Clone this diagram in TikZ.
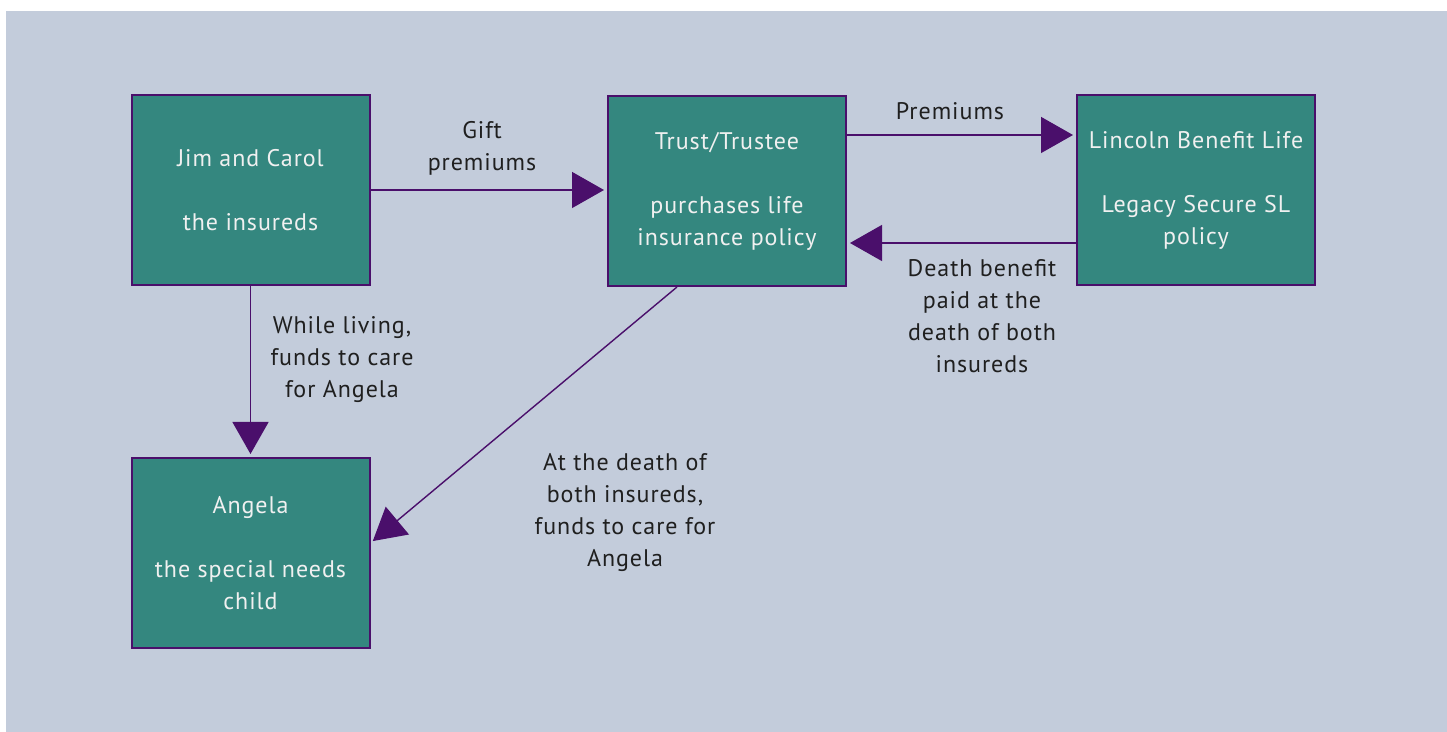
\documentclass[tikz,border=0pt]{standalone}
\usepackage{fontspec}
\setmainfont[LetterSpace=4]{PT Sans}
\usetikzlibrary{arrows.meta}
\definecolor{bgblue}{HTML}{C3CCDB}
\definecolor{boxteal}{HTML}{34877F}
\definecolor{darkpurple}{HTML}{4A0F6B}
\begin{document}
\begin{tikzpicture}[x=0.5pt, y=-0.5pt, >={Triangle[length=16pt,width=18pt]},
  box/.style={draw=darkpurple, line width=1pt, fill=boxteal, text=white!94!black,
    minimum width=119pt, minimum height=95pt, inner sep=0pt, align=center,
    font=\fontsize{12}{16}\selectfont},
  lbl/.style={align=center, text=black!88, font=\fontsize{12}{16}\selectfont},
  link/.style={draw=darkpurple, line width=0.7pt, ->, shorten >=1.5pt}]
\fill[bgblue](6,11)rectangle(1447,732);
\useasboundingbox(0,0)rectangle(1447,732);
\node[box](jim) at (250.5,190){Jim and Carol\\[16pt]the insureds};
\node[box](trust) at (727,191){Trust/Trustee\\[16pt]purchases life\\insurance policy};
\node[box](lincoln) at (1196,190){Lincoln Benefit Life\\[16pt]Legacy Secure SL\\policy};
\node[box](angela) at (250.5,553){Angela\\[16pt]the special needs\\child};
\draw[link](jim.east)--(jim.east-|trust.west);
\draw[link]([yshift=28pt]trust.east)--([yshift=28pt]trust.east-|lincoln.west);
\draw[link]([yshift=-26.5pt]lincoln.west)--([yshift=-26.5pt]lincoln.west-|trust.east);
\draw[link](jim.south)--(angela.north);
\draw[link]([xshift=-25pt]trust.south)--([yshift=5pt]angela.east);
\node[lbl](gift) at (482,148){Gift\\premiums};
\node[lbl](prem) at (950,111){Premiums};
\node[lbl](benefit) at (982,316){Death benefit\\paid at the\\death of both\\insureds};
\node[lbl](living) at (342,360){While living,\\funds to care\\for Angela};
\node[lbl](atdeath) at (625,513){At the death of\\both insureds,\\funds to care for\\Angela};
\end{tikzpicture}
\end{document}
